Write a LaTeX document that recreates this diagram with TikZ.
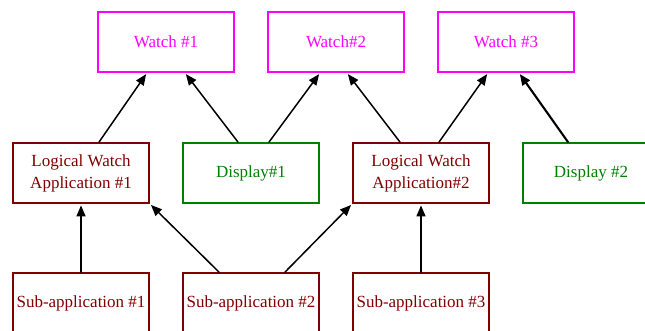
\documentclass[tikz,border=0pt]{standalone}
\usepackage{fontspec}
\setmainfont{Liberation Serif}
\usetikzlibrary{arrows.meta}
\definecolor{watchpink}{RGB}{255,0,255}
\definecolor{appred}{RGB}{128,0,0}
\definecolor{dispgreen}{RGB}{0,128,0}
\begin{document}
\begin{tikzpicture}[x=1pt,y=-1pt,line cap=round,line join=miter,>={Triangle[length=11pt,width=9pt]},
  box/.style={draw,line width=1.8pt,minimum width=136pt,minimum height=60pt,inner sep=2pt,
    align=center,font=\fontsize{17}{22}\selectfont},
  watch/.style={box,draw=watchpink,text=watchpink},
  app/.style={box,draw=appred,text=appred},
  disp/.style={box,draw=dispgreen,text=dispgreen},
  link/.style={line width=1.5pt,->,shorten >=1.5pt}]
  \useasboundingbox (0,0) rectangle (645,331);
  % watches
  \node[watch] (w1) at (166,42) {Watch \#1};
  \node[watch] (w2) at (336,42) {Watch\#2};
  \node[watch] (w3) at (506,42) {Watch \#3};
  % applications and displays
  \node[app]  (la1) at (81,173)  {Logical Watch\\Application \#1};
  \node[disp] (d1)  at (251,173) {Display\#1};
  \node[app]  (la2) at (421,173) {Logical Watch\\Application\#2};
  \node[disp] (d2)  at (591,173) {Display \#2};
  % sub-applications
  \node[app] (s1) at (81,303)  {Sub-application \#1};
  \node[app] (s2) at (251,303) {Sub-application \#2};
  \node[app] (s3) at (421,303) {Sub-application \#3};
  % links up to the watches
  \draw[link] ([xshift=18pt]la1.north) -- ([xshift=-19pt]w1.south);
  \draw[link] ([xshift=-13pt]d1.north) -- ([xshift=19pt]w1.south);
  \draw[link] ([xshift=18pt]d1.north) -- ([xshift=-16pt]w2.south);
  \draw[link] ([xshift=-21pt]la2.north) -- ([xshift=11pt]w2.south);
  \draw[link] ([xshift=18pt]la2.north) -- ([xshift=-18pt]w3.south);
  \draw[link,line width=2.1pt] ([xshift=-23pt]d2.north) -- ([xshift=13pt]w3.south);
  % links up to the applications
  \draw[link] (s1.north) -- (la1.south);
  \draw[link] ([xshift=-32pt]s2.north) -- (la1.south east);
  \draw[link] ([xshift=34pt]s2.north) -- (la2.south west);
  \draw[link] (s3.north) -- (la2.south);
\end{tikzpicture}
\end{document}
